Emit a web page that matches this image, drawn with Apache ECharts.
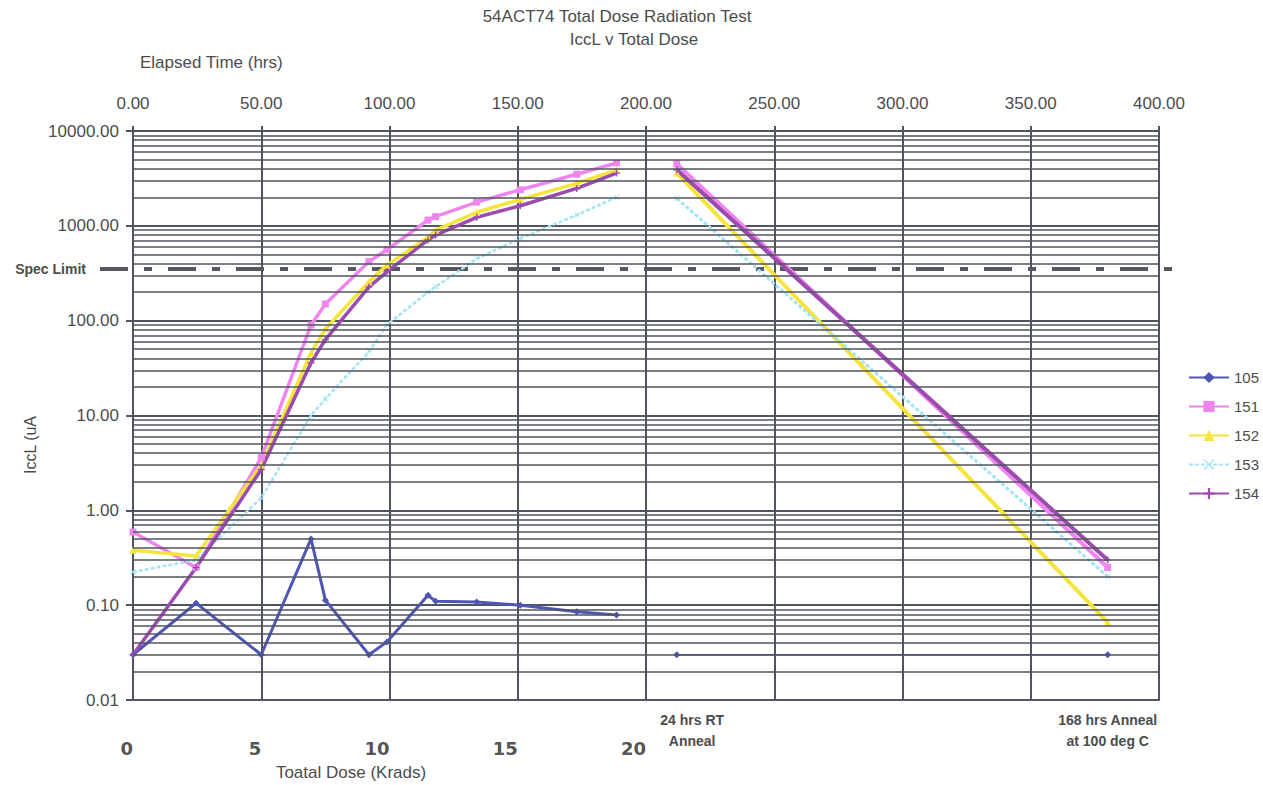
<!DOCTYPE html>
<html>
<head>
<meta charset="utf-8">
<script src="https://cdn.jsdelivr.net/npm/echarts@6/dist/echarts.min.js"></script>
<style>
html,body{margin:0;padding:0;background:#fff;}
#chart{width:1263px;height:785px;}
</style>
</head>
<body>
<div id="chart"></div>
<script>
// ---- data (x = elapsed time in hours, y = IccL in uA) ----
const hoursIrr    = [0, 24.6, 50, 69.4, 75, 92, 99, 115, 118, 134, 151, 173, 188.5];
const hoursAnneal = [212, 380];

const s105  = [0.030, 0.105, 0.030, 0.50, 0.113, 0.030, 0.041, 0.127, 0.110, 0.108, 0.100, 0.085, 0.079];
const s105A = [0.030, 0.030];
const s151  = [0.59, 0.25, 3.6, 90, 150, 420, 560, 1150, 1250, 1780, 2400, 3500, 4600];
const s151A = [4500, 0.25];
const s152  = [0.38, 0.33, 3.0, 46, 82, 258, 385, 760, 900, 1390, 1900, 2800, 3900];
const s152A = [3600, 0.066];
const s153  = [0.224, 0.30, 1.35, 10, 15, 47, 90, 200, 228, 450, 735, 1300, 2000];
const s153A = [1950, 0.20];
const s154  = [0.030, 0.25, 2.7, 36, 63, 227, 327, 710, 800, 1230, 1630, 2480, 3600];
const s154A = [3900, 0.30];

const seriesNames = ['105', '151', '152', '153', '154'];
const specLimit = 350;

const doseTicks = [0, 50, 100, 150, 200];          // hour positions of 0,5,10,15,20 krad
const annealLabelPos = [218, 380];
const annealLabels = ['24 hrs RT\nAnneal', '168 hrs Anneal\nat 100 deg C'];

// minor log grid values (2..9 of each decade)
const minorGrid = [];
for (let e = -2; e <= 3; e++) {
  for (let m = 2; m <= 9; m++) minorGrid.push(Number((m * Math.pow(10, e)).toPrecision(2)));
}

const pairs = (xs, ys) => xs.map((x, i) => [x, ys[i]]);

const gridColor = '#50545e';
const textColor = '#4c4c4c';
const colors = {'105': '#4f55b3', '151': '#ef86ef', '152': '#f6e43c', '153': '#a6e4f4', '154': '#9c4cae'};
const symbols = {
  '105': 'diamond',
  '151': 'rect',
  '152': 'triangle',
  '153': 'path://M0,1L1,0L5,4L9,0L10,1L6,5L10,9L9,10L5,6L1,10L0,9L4,5Z',
  '154': 'path://M4,0H6V4H10V6H6V10H4V6H0V4H4Z'
};
const widths = {'105': 3, '151': 3.5, '152': 3.5, '153': 2.5, '154': 3.5};
const irr = {'105': s105, '151': s151, '152': s152, '153': s153, '154': s154};
const ann = {'105': s105A, '151': s151A, '152': s152A, '153': s153A, '154': s154A};

const series = [];
// helper series carrying minor horizontal grid lines
series.push({
  type: 'line', data: [], xAxisIndex: 0, yAxisIndex: 0, z: 1, silent: true,
  markLine: {
    silent: true, symbol: ['none', 'none'], animation: false,
    label: {show: false},
    lineStyle: {color: gridColor, width: 1.6, type: 'solid'},
    emphasis: {disabled: true},
    data: minorGrid.map(v => ({yAxis: v}))
  }
});
// spec limit line (on a wider helper grid)
series.push({
  type: 'line', xAxisIndex: 3, yAxisIndex: 1, z: 2, silent: true,
  symbol: 'circle', symbolSize: 0.1, animation: false,
  lineStyle: {color: '#55585f', width: 4, type: [28, 16, 8, 16]},
  data: [
    {value: [0, specLimit], label: {show: true, position: 'left', distance: 14, formatter: 'Spec Limit',
      fontFamily: 'Liberation Sans, Arial', fontWeight: 'bold', fontSize: 14, color: textColor}},
    {value: [1, specLimit]}
  ]
});
seriesNames.forEach(n => {
  const base = {
    type: 'line', name: n, xAxisIndex: 0, yAxisIndex: 0, z: 3,
    symbol: symbols[n], symbolSize: n === '153' ? 6 : 7, showSymbol: true,
    itemStyle: {color: colors[n]},
    animation: false
  };
  series.push(Object.assign({}, base, {
    data: pairs(hoursIrr, irr[n]),
    lineStyle: {color: colors[n], width: widths[n], type: n === '153' ? [4, 2] : 'solid'}
  }));
  series.push(Object.assign({}, base, {
    data: pairs(hoursAnneal, ann[n]),
    lineStyle: {color: colors[n], width: n === '105' ? 1.6 : widths[n] + 0.5, type: n === '153' ? [4, 2] : 'solid'}
  }));
});

const chart = echarts.init(document.getElementById('chart'), null, {renderer: 'svg', width: 1263, height: 785});
const baseFont = 'Liberation Sans, Arial, sans-serif';

chart.setOption({
  backgroundColor: '#ffffff',
  animation: false,
  textStyle: {fontFamily: baseFont},
  grid: [
    {left: 133, right: 104, top: 131, bottom: 85, containLabel: false},
    {left: 100, right: 81, top: 131, bottom: 85, containLabel: false}
  ],
  legend: {
    orient: 'vertical', left: 1183, top: 365,
    itemWidth: 40, itemHeight: 14, itemGap: 14,
    data: seriesNames,
    textStyle: {color: textColor, fontSize: 15, fontFamily: baseFont},
    selectedMode: false
  },
  xAxis: [
    { // top: elapsed time
      type: 'value', gridIndex: 0, position: 'top', min: 0, max: 400, interval: 50,
      axisLine: {show: true, lineStyle: {color: gridColor, width: 2}},
      axisTick: {show: true, length: 5, lineStyle: {color: gridColor, width: 2}},
      axisLabel: {margin: 19, fontSize: 17, color: textColor, formatter: v => v.toFixed(2)},
      splitLine: {show: true, lineStyle: {color: gridColor, width: 2}}
    },
    { // bottom: dose
      type: 'value', gridIndex: 0, position: 'bottom', min: 0, max: 400, interval: 50,
      axisLine: {show: true, onZero: false, lineStyle: {color: gridColor, width: 2}},
      axisTick: {show: false},
      splitLine: {show: false},
      axisLabel: {
        customValues: doseTicks, margin: 39, align: 'right',
        fontSize: 18, fontWeight: 'bold', fontFamily: 'DejaVu Sans', color: '#555',
        formatter: v => v <= 200 ? String(v / 10) : ''
      }
    },
    { // bottom: anneal annotations
      type: 'value', gridIndex: 0, position: 'bottom', min: 0, max: 400,
      axisLine: {show: false}, axisTick: {show: false}, splitLine: {show: false},
      axisLabel: {
        customValues: annealLabelPos, margin: 9,
        fontSize: 14, fontWeight: 'bold', lineHeight: 21, color: textColor,
        formatter: v => annealLabels[annealLabelPos.indexOf(v)] || ''
      }
    },
    {type: 'value', gridIndex: 1, min: 0, max: 1, show: false}
  ],
  yAxis: [
    {
      type: 'log', logBase: 10, gridIndex: 0, min: 0.01, max: 10000,
      axisLine: {show: true, onZero: false, lineStyle: {color: gridColor, width: 2}},
      axisTick: {show: true, length: 7, lineStyle: {color: gridColor, width: 2}},
      axisLabel: {margin: 14, fontSize: 17, color: textColor, formatter: v => Number(v).toFixed(2)},
      splitLine: {show: true, lineStyle: {color: gridColor, width: 2}},
      minorSplitLine: {show: false}
    },
    {type: 'log', logBase: 10, gridIndex: 1, min: 0.01, max: 10000, show: false}
  ],
  graphic: [
    {type: 'text', x: 617, y: 16, style: {text: '54ACT74 Total Dose Radiation Test', align: 'center', verticalAlign: 'middle', fill: textColor, font: '17px ' + baseFont}},
    {type: 'text', x: 634, y: 39, style: {text: 'IccL v Total Dose', align: 'center', verticalAlign: 'middle', fill: textColor, font: '17px ' + baseFont}},
    {type: 'text', x: 140, y: 62, style: {text: 'Elapsed Time (hrs)', align: 'left', verticalAlign: 'middle', fill: textColor, font: '17px ' + baseFont}},
    {type: 'text', x: 351, y: 772, style: {text: 'Toatal Dose (Krads)', align: 'center', verticalAlign: 'middle', fill: textColor, font: '17px ' + baseFont}},
    {type: 'text', x: 30, y: 445, rotation: Math.PI / 2, style: {text: 'IccL (uA', align: 'center', verticalAlign: 'middle', fill: textColor, font: '16px ' + baseFont}}
  ],
  series: series
});
</script>
</body>
</html>
